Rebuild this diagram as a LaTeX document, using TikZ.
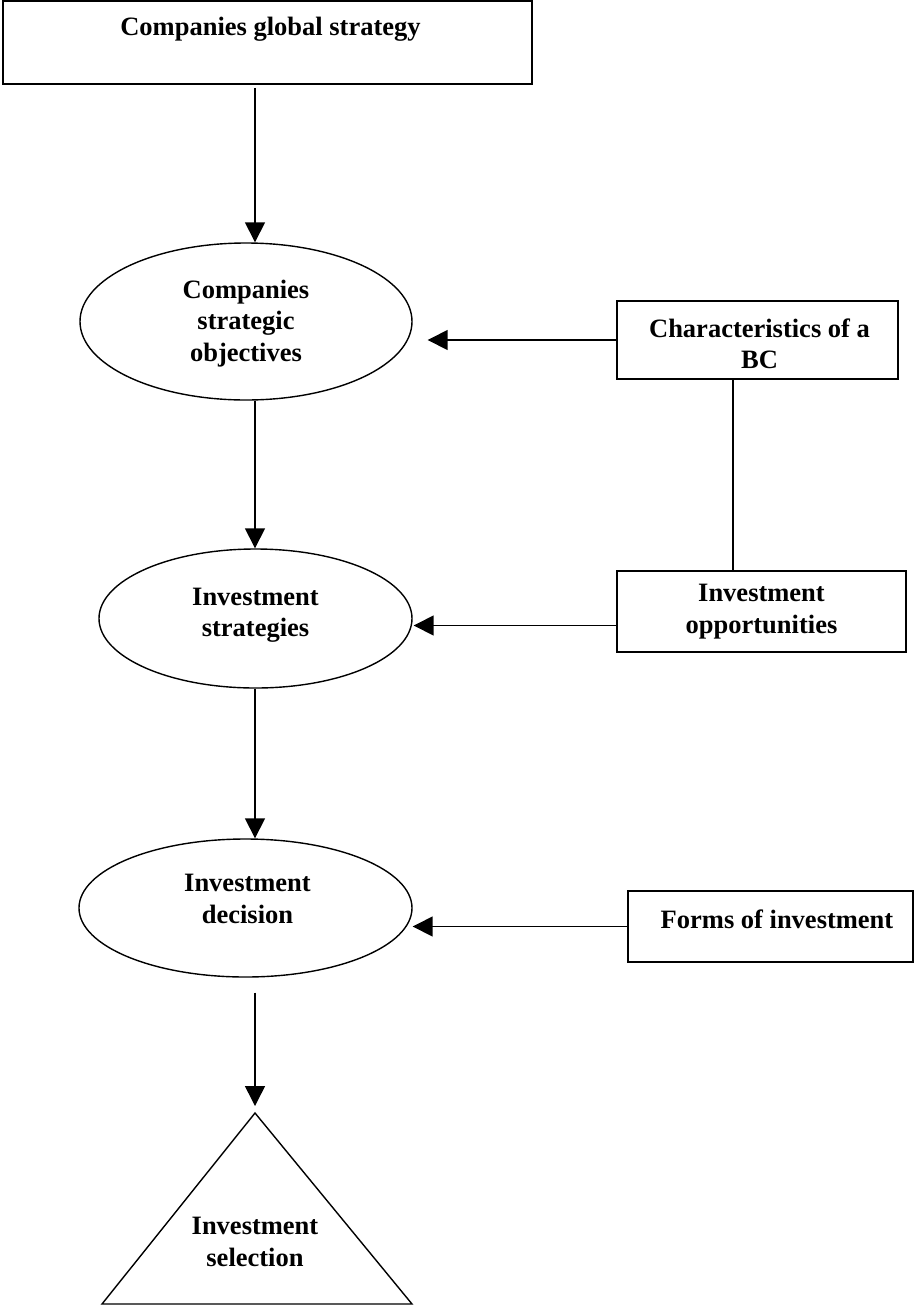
\documentclass[tikz,border=0pt]{standalone}
\usepackage{fontspec}
\setmainfont{Liberation Serif}
\usetikzlibrary{shapes.geometric,arrows.meta}
\begin{document}
\begin{tikzpicture}[x=1pt,y=-1pt,
  txt/.style={align=center, inner sep=0pt, font=\bfseries\fontsize{26.5}{31.5}\selectfont},
  box/.style={draw, rectangle, line width=1.6pt, inner sep=0pt},
  oval/.style={draw, ellipse, line width=1.4pt, inner sep=0pt},
  arr/.style={line width=1.5pt, -{Triangle[length=20pt,width=20pt]}},
  link/.style={line width=1.5pt}]
\useasboundingbox (0,0) rectangle (915,1307);

% vertical reference lines for the main flow and the side link
\coordinate (spine) at (255,0);
\coordinate (tie) at (733,0);

% main column
\node[box, minimum width=529pt, minimum height=83pt,
  label={[txt, xshift=3pt, yshift=13pt]center:Companies global strategy}] (gs) at (267.5,42.5) {};
\node[oval, minimum width=332pt, minimum height=157pt,
  label={[txt, yshift=-2pt]center:Companies\\strategic\\objectives}] (obj) at (246,321.5) {};
\node[oval, minimum width=313pt, minimum height=139pt,
  label={[txt, yshift=3.5pt]center:Investment\\strategies}] (strat) at (255.5,618.5) {};
\node[oval, minimum width=333pt, minimum height=138pt,
  label={[txt, xshift=2pt, yshift=9pt]center:Investment\\decision}] (dec) at (245.5,908) {};

% triangle at the bottom
\coordinate (selTop) at (255,1113);
\coordinate (selL) at (102,1304);
\coordinate (selR) at (412,1304);
\draw[link, line width=1.4pt, line join=miter] (selTop) -- (selR) -- (selL) -- cycle;
\node[txt] (sel) at (255,1242) {Investment\\selection};

% side boxes
\node[box, minimum width=281pt, minimum height=78pt,
  label={[txt, xshift=2pt, yshift=-4pt]center:Characteristics of a\\BC}] (chr) at (757.5,340) {};
\node[box, minimum width=289pt, minimum height=81pt,
  label={[txt]center:Investment\\opportunities}] (opp) at (761.5,611.5) {};
\node[box, minimum width=285pt, minimum height=71pt,
  label={[txt, xshift=6.5pt, yshift=7.5pt]center:Forms of investment}] (forms) at (770.5,926.5) {};

% main flow
\draw[arr, shorten <=3pt] (gs.south -| spine) -- (obj.north -| spine);
\draw[arr] (obj.south -| spine) -- (strat.north -| spine);
\draw[arr] (strat.south -| spine) -- (dec.north -| spine);
\draw[arr, shorten <=15pt, shorten >=7pt] (dec.south -| spine) -- (selTop);

% side inputs
\draw[arr, shorten >=15pt] (chr.west) -- (chr.west -| obj.east);
\draw[arr, shorten >=1pt] ([yshift=-14pt]opp.west) -- ([yshift=-14pt]opp.west -| strat.east);
\draw[arr] (forms.west) -- (forms.west -| dec.east);
\draw[link] (chr.south -| tie) -- (opp.north -| tie);
\end{tikzpicture}
\end{document}
